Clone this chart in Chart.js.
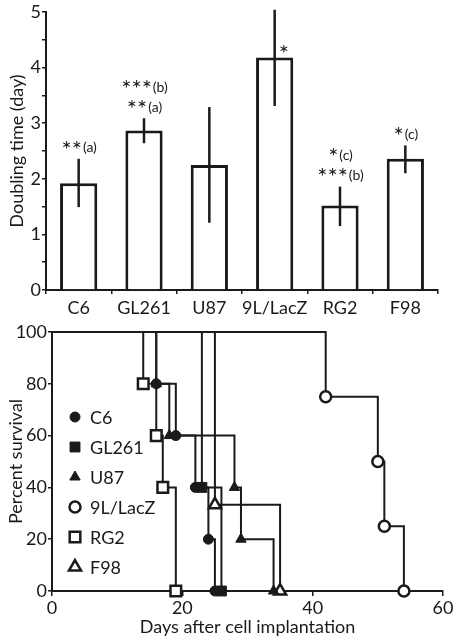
<!DOCTYPE html>
<html>
<head>
<meta charset="utf-8">
<script src="https://cdn.jsdelivr.net/npm/chart.js@4.4.0/dist/chart.umd.min.js"></script>
<style>
  html, body { margin: 0; padding: 0; background: #fff; }
  #wrap { position: relative; width: 459px; height: 641px; }
  #barBox { position: absolute; left: 0; top: 0; width: 459px; height: 320px; }
  #survBox { position: absolute; left: 0; top: 320px; width: 459px; height: 321px; }
</style>
</head>
<body>
<div id="wrap">
  <div id="barBox"><canvas id="barChart"></canvas></div>
  <div id="survBox"><canvas id="survChart"></canvas></div>
</div>
<script>
// top panel: doubling time (day)
const cellLines = ['C6', 'GL261', 'U87', '9L/LacZ', 'RG2', 'F98'];
const doublingTime = [1.92, 2.87, 2.25, 4.18, 1.52, 2.36];
const errLow = [1.49, 2.64, 1.21, 3.31, 1.15, 2.10];
const errHigh = [2.36, 3.09, 3.29, 5.04, 1.86, 2.60];
// significance marks per bar, lowest line first: [stars, letter]
const sigMarks = [
  [['**', 'a']],
  [['**', 'a'], ['***', 'b']],
  [],
  [['*', '']],
  [['***', 'b'], ['*', 'c']],
  [['*', 'c']]
];

// bottom panel: Kaplan-Meier survival (days, percent)
const c6Days = [0, 16, 19, 22, 24, 25];
const c6Surv = [100, 80, 60, 40, 20, 0];
const gl261Days = [0, 23, 26];
const gl261Surv = [100, 40, 0];
const u87Days = [0, 16, 18, 28, 29, 34];
const u87Surv = [100, 80, 60, 40, 20, 0];
const lacZDays = [0, 42, 50, 51, 54];
const lacZSurv = [100, 75, 50, 25, 0];
const rg2Days = [0, 14, 16, 17, 19];
const rg2Surv = [100, 80, 60, 40, 0];
const f98Days = [0, 25, 35];
const f98Surv = [100, 33.3, 0];

const ink = '#1a1a1a';
Chart.defaults.font.family = 'Lato, "Open Sans", sans-serif';
Chart.defaults.font.size = 18;
Chart.defaults.color = ink;

// error bars + significance stars for the bar chart
const errorBars = {
  id: 'errorBars',
  afterDatasetsDraw(chart) {
    const ctx = chart.ctx;
    const x = chart.scales.x, y = chart.scales.y;
    ctx.save();
    ctx.strokeStyle = ink;
    ctx.lineWidth = 2.5;
    errLow.forEach((lo, i) => {
      const px = x.getPixelForValue(i);
      ctx.beginPath();
      ctx.moveTo(px, y.getPixelForValue(lo));
      ctx.lineTo(px, y.getPixelForValue(errHigh[i]));
      ctx.stroke();
    });
    ctx.fillStyle = ink;
    ctx.textBaseline = 'middle';
    sigMarks.forEach((marks, i) => {
      const px = x.getPixelForValue(i);
      const topY = y.getPixelForValue(errHigh[i]);
      marks.forEach((m, j) => {
        ctx.font = '24px Lato';
        const w1 = ctx.measureText(m[0]).width;
        ctx.font = '14px Lato';
        const sub = m[1] ? '(' + m[1] + ')' : '';
        const w2 = ctx.measureText(sub).width;
        let sx, sy;
        if (errHigh[i] >= y.max) {
          // error bar runs off the top: put the mark next to the bar top
          sx = px + 4;
          sy = y.getPixelForValue(doublingTime[i]) - 3;
        } else {
          sx = px - (w1 + w2) / 2;
          sy = topY - 9 - 20 * j;
        }
        ctx.textAlign = 'left';
        ctx.font = '24px Lato';
        ctx.fillText(m[0], sx, sy);
        ctx.font = '14px Lato';
        ctx.fillText(sub, sx + w1 + 1, sy - 2);
      });
    });
    ctx.restore();
  }
};

new Chart(document.getElementById('barChart'), {
  type: 'bar',
  data: {
    labels: cellLines,
    datasets: [{
      data: doublingTime,
      backgroundColor: '#fff',
      borderColor: ink,
      borderWidth: 3,
      categoryPercentage: 1,
      barPercentage: 0.57
    }]
  },
  options: {
    responsive: true,
    maintainAspectRatio: false,
    animation: false,
    layout: { padding: { top: 12, right: 21, left: 0, bottom: 0 } },
    plugins: { legend: { display: false }, tooltip: { enabled: false } },
    scales: {
      x: {
        afterFit(s) { s.height = 30; },
        grid: { offset: true, drawOnChartArea: false, tickLength: 4, color: ink, lineWidth: 1.5 },
        border: { color: ink, width: 2 },
        ticks: { padding: 3, maxRotation: 0, minRotation: 0, autoSkip: false, font: { size: 18 } }
      },
      y: {
        min: 0,
        max: 5,
        afterFit(s) { s.width = 46; },
        grid: { drawOnChartArea: false, tickLength: 4, color: ink, lineWidth: 1.5 },
        border: { color: ink, width: 2 },
        ticks: {
          stepSize: 0.5,
          padding: 1,
          callback: v => Number.isInteger(v) ? v : ''
        },
        title: { display: true, text: 'Doubling time (day)', padding: { top: 6, bottom: 0 }, font: { size: 18 } }
      }
    }
  },
  plugins: [errorBars]
});

// legend drawn inside the survival plot
const insideLegend = {
  id: 'insideLegend',
  afterDraw(chart) {
    const ctx = chart.ctx;
    const area = chart.chartArea;
    ctx.save();
    chart.data.datasets.forEach((ds, i) => {
      const ly = area.top + 85 + 30 * i;
      ctx.fillStyle = ds.pointBackgroundColor;
      ctx.strokeStyle = ink;
      ctx.lineWidth = ds.pointBorderWidth;
      Chart.helpers.drawPoint(ctx, {
        pointStyle: ds.pointStyle, radius: ds.legendRadius, rotation: 0, borderWidth: ds.pointBorderWidth
      }, area.left + 23, ly);
      ctx.fillStyle = ink;
      ctx.font = '18px Lato';
      ctx.textBaseline = 'middle';
      ctx.textAlign = 'left';
      ctx.fillText(ds.label, area.left + 38, ly + 1);
    });
    ctx.restore();
  }
};

function kmSet(label, days, surv, style, filled, radius) {
  return {
    label: label,
    data: days.map((d, i) => ({ x: d, y: surv[i] })),
    stepped: true,
    fill: false,
    clip: false,
    borderColor: ink,
    borderWidth: 2,
    pointStyle: style,
    pointBackgroundColor: filled ? ink : '#fff',
    pointBorderColor: ink,
    pointBorderWidth: filled ? 1 : 2.5,
    pointRadius: c => c.dataIndex === 0 ? 0 : radius,
    legendRadius: radius
  };
}

new Chart(document.getElementById('survChart'), {
  type: 'line',
  data: {
    datasets: [
      kmSet('C6', c6Days, c6Surv, 'circle', true, 5),
      kmSet('GL261', gl261Days, gl261Surv, 'rect', true, 7),
      kmSet('U87', u87Days, u87Surv, 'triangle', true, 6),
      kmSet('9L/LacZ', lacZDays, lacZSurv, 'circle', false, 5.5),
      kmSet('RG2', rg2Days, rg2Surv, 'rect', false, 7.5),
      kmSet('F98', f98Days, f98Surv, 'triangle', false, 7)
    ]
  },
  options: {
    responsive: true,
    maintainAspectRatio: false,
    animation: false,
    layout: { padding: { top: 12, right: 16, left: 0, bottom: 0 } },
    plugins: { legend: { display: false }, tooltip: { enabled: false } },
    scales: {
      x: {
        type: 'linear',
        min: 0,
        max: 60,
        afterFit(s) { s.height = 50; },
        grid: { drawOnChartArea: false, tickLength: 5, color: ink, lineWidth: 1.5 },
        border: { color: ink, width: 2 },
        ticks: { stepSize: 20, padding: 1 },
        title: { display: true, text: 'Days after cell implantation', padding: { top: 0, bottom: 3 } }
      },
      y: {
        min: 0,
        max: 100,
        afterFit(s) { s.width = 52; },
        grid: { drawOnChartArea: false, tickLength: 4, color: ink, lineWidth: 1.5 },
        border: { color: ink, width: 2 },
        ticks: { stepSize: 20, padding: 1 },
        title: { display: true, text: 'Percent survival', padding: { top: 5, bottom: 0 } }
      }
    }
  },
  plugins: [insideLegend]
});
</script>
</body>
</html>
